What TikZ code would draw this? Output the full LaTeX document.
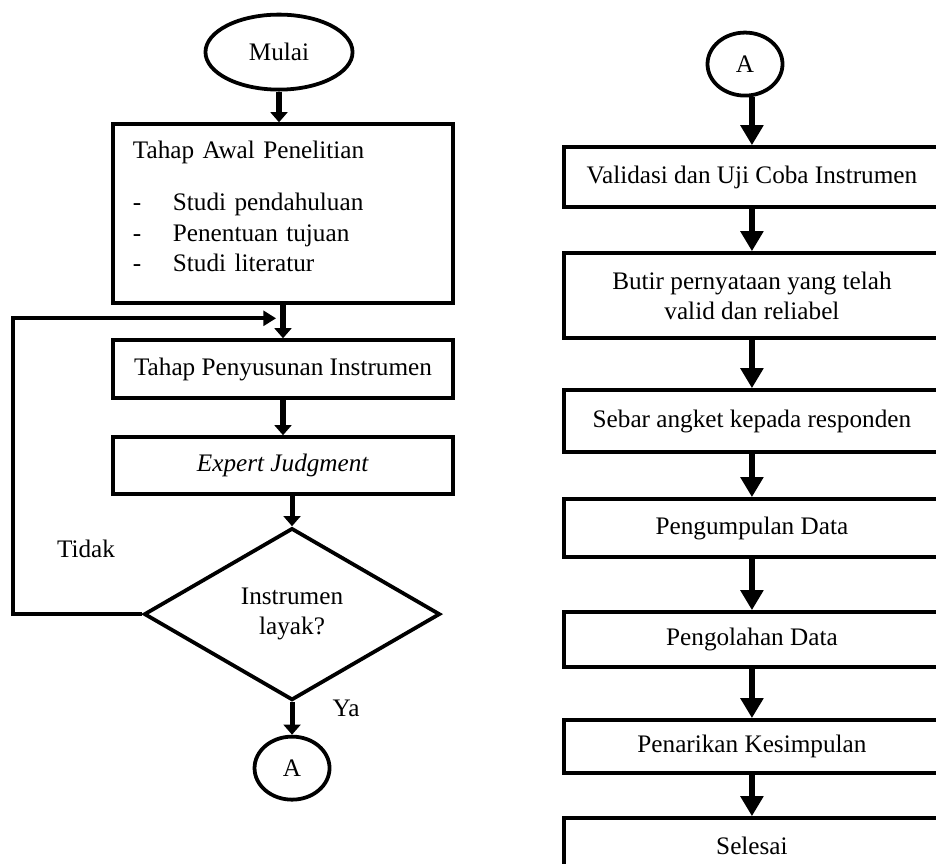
\documentclass[tikz,border=0pt]{standalone}
\usepackage{fontspec}
\setmainfont{Liberation Serif}
\usetikzlibrary{shapes.geometric,arrows.meta,positioning}

\newcommand{\butir}[1]{\makebox[19pt][l]{-}#1}

\begin{document}
\begin{tikzpicture}[font=\fontsize{12}{14.5}\selectfont,line width=1.8pt,
  kotak/.style={draw,rectangle,minimum width=161.8pt,inner sep=0pt},
  kotakkanan/.style={draw,rectangle,minimum width=179pt,inner sep=0pt,align=center},
  terminal/.style={draw,ellipse,minimum width=70pt,minimum height=35.7pt,inner sep=0pt},
  konektor/.style={draw,ellipse,minimum width=35.7pt,minimum height=30pt,inner sep=0pt},
  keputusan/.style={draw,diamond,minimum width=140.9pt,minimum height=81.9pt,inner sep=0pt,align=center},
  panah/.style={-{Triangle[width=8pt,length=4.8pt]},line width=2.4pt},
  panahkanan/.style={-{Triangle[width=10.5pt,length=9.5pt]},line width=2.8pt},
  garisbalik/.style={-{Triangle[width=7pt,length=6pt]},line width=1.8pt}]
  \useasboundingbox (-132.8pt,24.8pt) rectangle (312.7pt,-386pt);
  \clip (-132.8pt,24.8pt) rectangle (312.7pt,-386pt);

  % kolom kiri
  \node[terminal] (mulai) at (0,0) {Mulai};
  \node[kotak,minimum height=85.2pt,inner xsep=9.5pt,text width=142.8pt,align=left] (awal) [node distance=76.9pt,below of=mulai,xshift=1.9pt]
    {Tahap Awal Penelitian\\[10.3pt]
     \butir{Studi pendahuluan}\\
     \butir{Penentuan tujuan}\\
     \butir{Studi literatur}\rule[-6.8pt]{0pt}{6.8pt}};
  \node[kotak,minimum height=27.6pt] (susun) [node distance=74pt,below of=awal] {Tahap Penyusunan Instrumen};
  \node[kotak,minimum height=27.1pt] (ej) [node distance=45.9pt,below of=susun] {\textit{Expert Judgment}};
  \node[keputusan] (dia) [node distance=70.7pt,below of=ej,xshift=4.3pt] {Instrumen\\layak?};
  \node[konektor] (A1) [node distance=73.3pt,below of=dia] {A};

  \node (tidak) [xshift=-26.7pt,yshift=30.9pt] at (dia.west) {Tidak};
  \node (ya) [xshift=25.7pt,yshift=-2.9pt] at (dia.south) {Ya};

  \draw[panah] (mulai.south) -- (mulai.south |- awal.north);
  \path[panah] (awal) edge (susun)
    (susun) edge (ej)
    (ej.south -| dia.north) edge (dia.north)
    (dia) edge (A1);

  \coordinate (sudut) at ([xshift=-61.5pt]dia.west);
  \coordinate (masuk) at ([xshift=-3.3pt,yshift=9.5pt]susun.north);
  \draw[garisbalik] (dia.west) -- (sudut) |- (masuk);

  % kolom kanan
  \node[konektor] (A2) at (221.8pt,-5.7pt) {A};
  \node[kotakkanan,minimum height=28.6pt] (v1) [node distance=53.8pt,below of=A2,xshift=3.3pt] {Validasi dan Uji Coba Instrumen};
  \node[kotakkanan,minimum height=40.5pt] (v2) [node distance=56.4pt,below of=v1] {Butir pernyataan yang telah\\valid dan reliabel};
  \node[kotakkanan,minimum height=29.5pt] (v3) [node distance=59.7pt,below of=v2] {Sebar angket kepada responden};
  \node[kotakkanan,minimum height=27.6pt] (v4) [node distance=50.9pt,below of=v3] {Pengumpulan Data};
  \node[kotakkanan,minimum height=26.2pt] (v5) [node distance=53.1pt,below of=v4] {Pengolahan Data};
  \node[kotakkanan,minimum height=25.2pt] (v6) [node distance=50.9pt,below of=v5] {Penarikan Kesimpulan};
  \node[kotakkanan,minimum height=26.7pt] (v7) [node distance=47.4pt,below of=v6] {Selesai};

  \path[panahkanan] (A2.south -| v1.north) edge (v1.north)
    (v1) edge (v2)
    (v2) edge (v3)
    (v3) edge (v4)
    (v4) edge (v5)
    (v5) edge (v6)
    (v6) edge (v7);
\end{tikzpicture}
\end{document}
